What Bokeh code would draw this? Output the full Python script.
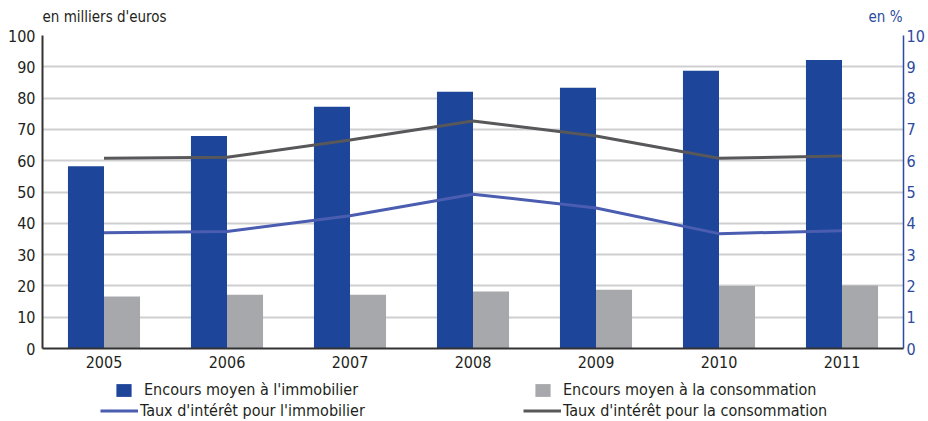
from bokeh.plotting import figure
from bokeh.layouts import column
from bokeh.models import (FactorRange, Range1d, LinearAxis, Label, Legend, LegendItem,
                          FixedTicker, ColumnDataSource)
from bokeh.transform import dodge
from bokeh.embed import file_html
from bokeh.resources import INLINE

years = ["2005", "2006", "2007", "2008", "2009", "2010", "2011"]
encours_immobilier = [58.2, 67.9, 77.2, 82.0, 83.3, 88.7, 92.2]
encours_consommation = [16.6, 17.2, 17.2, 18.2, 18.8, 20.0, 20.1]
taux_immobilier = [3.70, 3.74, 4.24, 4.93, 4.49, 3.67, 3.76]
taux_consommation = [6.08, 6.11, 6.66, 7.27, 6.79, 6.08, 6.15]
left_ticks = [0, 10, 20, 30, 40, 50, 60, 70, 80, 90, 100]
right_ticks = [0, 1, 2, 3, 4, 5, 6, 7, 8, 9, 10]

FONT = "'DejaVu Sans Condensed', 'Liberation Sans Narrow', Roboto, sans-serif"
BLUE = "#1d4599"
GREY_BAR = "#a7a8ab"
LINE_BLUE = "#4a5db0"
LINE_GREY = "#58585a"
AXIS_BLUE = "#2b4aa0"
TEXT = "#231f20"
W = 928
FRAME_LEFT = 42
FRAME_RIGHT_BORDER = 25


def strip(height):
    f = figure(width=W, height=height, x_range=Range1d(0, 1), y_range=Range1d(0, height),
               output_backend="svg", toolbar_location=None,
               x_axis_location=None, y_axis_location=None,
               min_border_left=0, min_border_right=0, min_border_top=0, min_border_bottom=0)
    f.outline_line_color = None
    f.grid.visible = False
    return f


# ---------- header (unit titles) ----------
HH = 26
header = strip(HH)
header.add_layout(Label(x=0, y=HH / 2 - 3, x_units="screen", text="en milliers d'euros", text_font=FONT,
                        text_font_size="15px", text_color=TEXT, text_baseline="middle"))
header.add_layout(Label(x=1, y=HH / 2 - 3, x_offset=-1, text_align="right", text="en %", text_font=FONT,
                        text_font_size="15px", text_color=AXIS_BLUE, text_baseline="middle"))

# ---------- main chart ----------
src = ColumnDataSource(dict(years=years, immo=encours_immobilier, conso=encours_consommation,
                            timmo=taux_immobilier, tconso=taux_consommation))

p = figure(x_range=FactorRange(*years), y_range=Range1d(0, 100), width=W, height=347,
           output_backend="svg", toolbar_location=None,
           min_border_left=FRAME_LEFT, min_border_right=FRAME_RIGHT_BORDER,
           min_border_top=9, min_border_bottom=25)
p.extra_y_ranges = {"right": Range1d(0, 10)}
p.outline_line_color = None

bw = 0.293
p.vbar(x=dodge("years", -bw / 2, range=p.x_range), top="immo", width=bw, source=src,
       fill_color=BLUE, line_color=None)
p.vbar(x=dodge("years", bw / 2, range=p.x_range), top="conso", width=bw, source=src,
       fill_color=GREY_BAR, line_color=None)
p.line(x="years", y="timmo", source=src, y_range_name="right", line_color=LINE_BLUE, line_width=3)
p.line(x="years", y="tconso", source=src, y_range_name="right", line_color=LINE_GREY, line_width=3)

p.yaxis.ticker = FixedTicker(ticks=left_ticks)
p.ygrid.ticker = FixedTicker(ticks=left_ticks)
p.xgrid.visible = False
p.ygrid.grid_line_color = "#cfcfd1"
p.ygrid.grid_line_width = 2

ra = LinearAxis(y_range_name="right", ticker=FixedTicker(ticks=right_ticks))
p.add_layout(ra, "right")

for ax in (p.xaxis[0], p.yaxis[0], ra):
    ax.axis_line_color = "#333333"
    ax.axis_line_width = 2
    ax.major_tick_line_color = None
    ax.minor_tick_line_color = None
    ax.major_tick_out = 0
    ax.major_tick_in = 0
    ax.minor_tick_out = 0
    ax.minor_tick_in = 0
    ax.axis_label_standoff = 0
    ax.major_label_text_font = FONT
    ax.major_label_text_font_size = "16px"
    ax.major_label_text_color = TEXT
p.yaxis.major_label_standoff = 7
p.xaxis.major_label_standoff = 7
ra.axis_line_color = AXIS_BLUE
ra.axis_line_width = 1.5
ra.major_label_text_color = AXIS_BLUE
ra.major_label_standoff = 3

# ---------- footer (legend) ----------
FH = 421 - HH - 347
footer = strip(FH)
dummy = ColumnDataSource(dict(x=[-1000], y=[-1000]))
bar_immo = footer.vbar(x="x", top="y", width=1, source=dummy, fill_color=BLUE, line_color=None)
bar_conso = footer.vbar(x="x", top="y", width=1, source=dummy, fill_color=GREY_BAR, line_color=None)
ln_immo = footer.line(x="x", y="y", source=dummy, line_color=LINE_BLUE, line_width=3)
ln_conso = footer.line(x="x", y="y", source=dummy, line_color=LINE_GREY, line_width=3)


def one_legend(label, renderer, x, y, gw, gh, standoff):
    return Legend(items=[LegendItem(label=label, renderers=[renderer])], location=(x, y),
                  glyph_width=gw, glyph_height=gh, label_height=19, spacing=0,
                  label_standoff=standoff, padding=0, margin=0, border_line_color=None,
                  background_fill_alpha=0, label_text_font=FONT, label_text_font_size="16px",
                  label_text_color=TEXT, label_text_baseline="middle")


ROW1, ROW2 = 22.0, 1.0
footer.add_layout(one_legend("Encours moyen à l'immobilier", bar_immo, 114 - FRAME_LEFT, ROW1, 19, 16, 11))
footer.add_layout(one_legend("Taux d'intérêt pour l'immobilier", ln_immo, 100 - FRAME_LEFT, ROW2, 38, 15, 2))
footer.add_layout(one_legend("Encours moyen à la consommation", bar_conso, 533 - FRAME_LEFT, ROW1, 19, 16, 11))
footer.add_layout(one_legend("Taux d'intérêt pour la consommation", ln_conso, 523 - FRAME_LEFT, ROW2, 38, 15, 2))

layout = column(header, p, footer, spacing=0)
open("out.html", "w").write(file_html(layout, INLINE))
